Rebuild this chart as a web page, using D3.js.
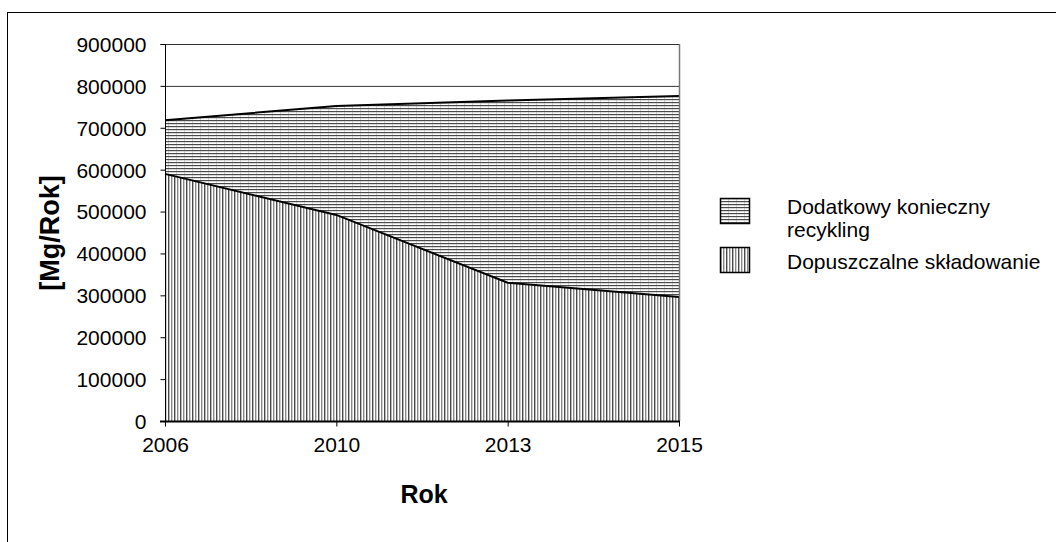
<!DOCTYPE html>
<html>
<head>
<meta charset="utf-8">
<script src="https://cdn.jsdelivr.net/npm/d3@7"></script>
<style>
  html, body { margin: 0; padding: 0; background: #fff; }
  svg { display: block; font-family: "Liberation Sans", Arial, sans-serif; }
</style>
</head>
<body>
<svg id="chart" width="1056" height="542"></svg>
<script>
// Years on the category axis
const years = ["2006", "2010", "2013", "2015"];
// Permitted landfilling [Mg/year]
const landfill = [590000, 492000, 330000, 296000];
// Additional recycling required on top [Mg/year]
const recycling = [128000, 260000, 435000, 480000];
// Value axis ticks
const yTicks = [0, 100000, 200000, 300000, 400000, 500000, 600000, 700000, 800000, 900000];
const seriesNames = ["Dodatkowy konieczny\nrecykling", "Dopuszczalne składowanie"];

const svg = d3.select("#chart");

// Frame around the whole chart
svg.append("rect")
  .attr("x", 7.5).attr("y", 12.5)
  .attr("width", 1100).attr("height", 600)
  .attr("fill", "none").attr("stroke", "#000").attr("stroke-width", 1);

const plot = { left: 165, right: 679, top: 44, bottom: 421 };

const x = d3.scalePoint().domain(years).range([plot.left, plot.right]);
const y = d3.scaleLinear().domain([0, 900000]).range([plot.bottom, plot.top]);

// Fill patterns
const defs = svg.append("defs");
const pv = defs.append("pattern").attr("id", "vert")
  .attr("patternUnits", "userSpaceOnUse").attr("width", 6).attr("height", 6);
pv.append("rect").attr("width", 6).attr("height", 6).attr("fill", "#fff");
pv.append("rect").attr("x", 0).attr("y", 0).attr("width", 1.4).attr("height", 6).attr("fill", "#4a4a4a");
pv.append("rect").attr("x", 3).attr("y", 0).attr("width", 1.4).attr("height", 6).attr("fill", "#888");

const ph = defs.append("pattern").attr("id", "horiz")
  .attr("patternUnits", "userSpaceOnUse").attr("width", 8).attr("height", 3);
ph.append("rect").attr("width", 8).attr("height", 3).attr("fill", "#fff");
ph.append("rect").attr("x", 0).attr("y", 0).attr("width", 8).attr("height", 1.2).attr("fill", "#4a4a4a");
ph.append("rect").attr("x", 0).attr("y", 1.5).attr("width", 1).attr("height", 1).attr("fill", "#aaa");

// Grid lines
svg.append("g").selectAll("line").data(yTicks.filter(d => d > 0)).join("line")
  .attr("x1", plot.left).attr("x2", plot.right)
  .attr("y1", d => y(d) + 0.5).attr("y2", d => y(d) + 0.5)
  .attr("stroke", "#333").attr("stroke-width", 1);

// Stacked areas
const rows = years.map((yr, i) => ({ year: yr, landfill: landfill[i], recycling: recycling[i] }));
const stack = d3.stack().keys(["landfill", "recycling"])(rows);
const area = d3.area()
  .x(d => x(d.data.year))
  .y0(d => y(d[0]))
  .y1(d => y(d[1]));
const topLine = d3.line().x(d => x(d.data.year)).y(d => y(d[1]));

svg.append("path").datum(stack[1]).attr("d", area).attr("fill", "url(#horiz)");
svg.append("path").datum(stack[0]).attr("d", area).attr("fill", "url(#vert)");
svg.append("path").datum(stack[1]).attr("d", topLine)
  .attr("fill", "none").attr("stroke", "#000").attr("stroke-width", 2);
svg.append("path").datum(stack[0]).attr("d", topLine)
  .attr("fill", "none").attr("stroke", "#000").attr("stroke-width", 2);

// Right edge of the plot area
svg.append("line")
  .attr("x1", plot.right + 0.5).attr("x2", plot.right + 0.5)
  .attr("y1", plot.top).attr("y2", plot.bottom)
  .attr("stroke", "#777").attr("stroke-width", 1.5);

// Value axis
const yAxis = svg.append("g")
  .attr("transform", `translate(${plot.left + 0.5},0)`)
  .call(d3.axisLeft(y).tickValues(yTicks).tickSize(5).tickPadding(14).tickFormat(d3.format("d")));
yAxis.select(".domain").attr("stroke", "#000").attr("d", `M-5,${plot.top + 0.5}H0V${plot.bottom}`);
yAxis.selectAll("text").attr("font-size", 21).attr("fill", "#000").attr("dy", "0.35em")
  .style("font-family", "'Liberation Sans', Arial, sans-serif");

// Category axis
const xAxis = svg.append("g")
  .attr("transform", `translate(0,${plot.bottom + 0.5})`)
  .call(d3.axisBottom(x).tickSize(5).tickPadding(11));
xAxis.select(".domain").attr("stroke", "#000").attr("stroke-width", 2)
  .attr("d", `M${plot.left - 5},0H${plot.right + 1}`);
xAxis.selectAll("text").attr("font-size", 21).attr("fill", "#000")
  .style("font-family", "'Liberation Sans', Arial, sans-serif");

// Axis titles
svg.append("text")
  .attr("x", 424).attr("y", 503)
  .attr("text-anchor", "middle").attr("font-size", 25).attr("font-weight", "bold")
  .text("Rok");
svg.append("text")
  .attr("transform", "translate(59,233) rotate(-90)")
  .attr("text-anchor", "middle").attr("font-size", 27).attr("font-weight", "bold")
  .text("[Mg/Rok]");

// Legend
const legend = svg.append("g");
const fills = ["url(#horiz)", "url(#vert)"];
const swatchY = [198, 247];
seriesNames.forEach((name, i) => {
  legend.append("rect")
    .attr("x", 720.5).attr("y", swatchY[i] + 0.5)
    .attr("width", 29).attr("height", 25)
    .attr("fill", fills[i]).attr("stroke", "#000").attr("stroke-width", 1.5);
  const t = legend.append("text").attr("font-size", 21).attr("fill", "#000");
  name.split("\n").forEach((ln, j) => {
    t.append("tspan").attr("x", 787).attr("y", (i === 0 ? 214 : 269) + j * 23).text(ln);
  });
});
</script>
</body>
</html>
